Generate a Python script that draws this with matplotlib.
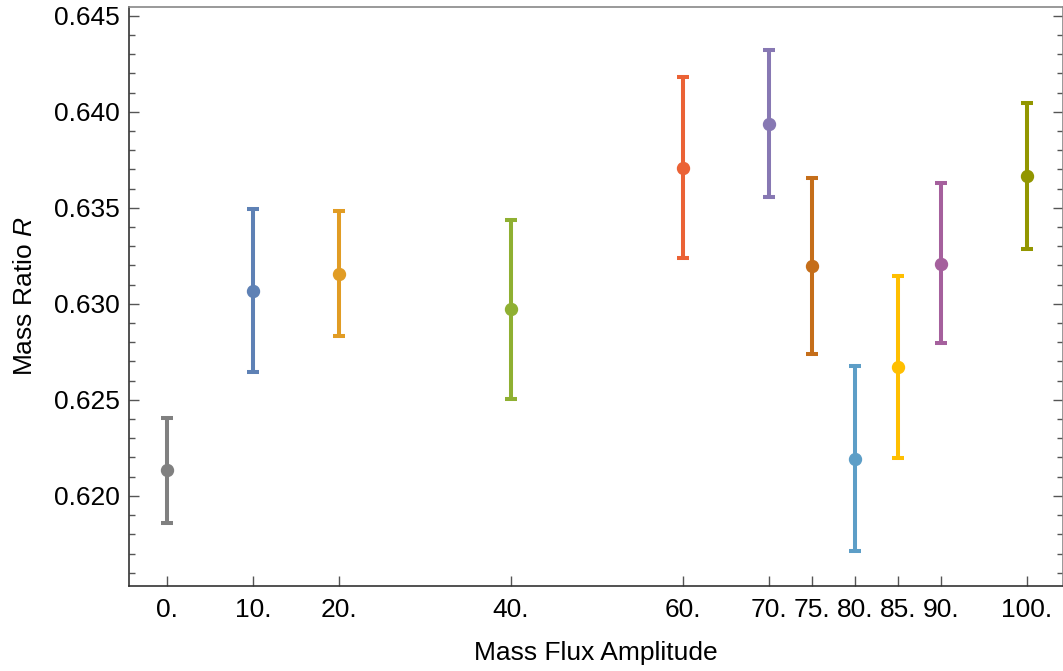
import matplotlib

matplotlib.use("Agg")
import matplotlib.pyplot as plt
from matplotlib.ticker import FixedLocator, MultipleLocator, FuncFormatter

plt.rcParams["font.family"] = ["Liberation Sans", "DejaVu Sans"]
plt.rcParams["mathtext.fontset"] = "custom"
plt.rcParams["mathtext.it"] = "Liberation Sans:italic"
plt.rcParams["mathtext.rm"] = "Liberation Sans"

# mass flux amplitude and measured mass ratio (centre, lower, upper)
amplitude = [0, 10, 20, 40, 60, 70, 75, 80, 85, 90, 100]
ratio = [0.62134, 0.63068, 0.63156, 0.62971, 0.63705, 0.63938,
         0.63196, 0.62193, 0.62670, 0.63210, 0.63665]
ratio_low = [0.61859, 0.62644, 0.62832, 0.62504, 0.63238, 0.63556,
             0.62738, 0.61714, 0.62196, 0.62794, 0.63285]
ratio_high = [0.62408, 0.63492, 0.63481, 0.63436, 0.64179, 0.64321,
              0.63656, 0.62674, 0.63143, 0.63627, 0.64045]
colors = ["#808080", "#5E81B5", "#E19C24", "#8FB032", "#EB6235", "#8778B3",
          "#C56E1A", "#5D9EC7", "#FFBF00", "#A5609D", "#929600"]

fig = plt.figure(figsize=(10.63, 6.71), dpi=100)
ax = fig.add_axes([0.1214, 0.1267, 0.8786, 0.8624])

for x, y, lo, hi, c in zip(amplitude, ratio, ratio_low, ratio_high, colors):
    ax.errorbar([x], [y], yerr=[[y - lo], [hi - y]], fmt="o", color=c,
                ecolor=c, elinewidth=2.9, capsize=4.6, capthick=2.9,
                markersize=8.6)

ax.set_xlim(-4.42, 104.2)
ax.set_ylim(0.61531, 0.64544)

ax.xaxis.set_major_locator(FixedLocator(amplitude))
ax.xaxis.set_major_formatter(FuncFormatter(lambda v, p: f"{v:.0f}."))
ax.yaxis.set_major_locator(MultipleLocator(0.005))
ax.yaxis.set_minor_locator(MultipleLocator(0.001))
ax.yaxis.set_major_formatter(FuncFormatter(lambda v, p: f"{v:.3f}"))

ax.tick_params(axis="both", which="both", direction="in", color="#555555",
               labelsize=19, width=1.0)
ax.tick_params(axis="x", which="major", length=7.5, pad=8.5, top=False)
ax.tick_params(axis="y", which="major", length=7.5, pad=6.5, right=True)
ax.tick_params(axis="y", which="minor", length=4.5, right=True)

for side in ["left", "bottom"]:
    ax.spines[side].set_color("#333333")
for side in ["top", "right"]:
    ax.spines[side].set_color("#888888")
for sp in ax.spines.values():
    sp.set_linewidth(1.2)

ax.set_xlabel("Mass Flux Amplitude", fontsize=19, labelpad=14)
ax.set_ylabel(r"Mass Ratio $R$", fontsize=19, labelpad=12)

fig.savefig("out.png", dpi=100)
